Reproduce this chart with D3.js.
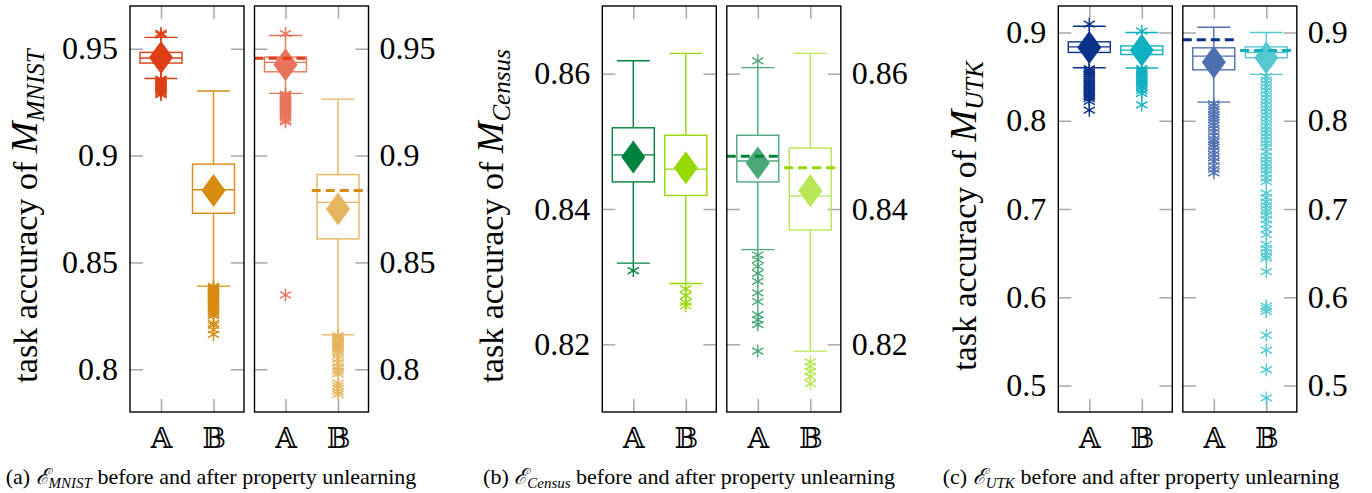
<!DOCTYPE html>
<html>
<head>
<meta charset="utf-8">
<script src="https://cdn.jsdelivr.net/npm/d3@7"></script>
<style>
  body { margin: 0; background: #fff; }
  text { font-family: "Liberation Serif", "DejaVu Serif", serif; }
</style>
</head>
<body>
<svg id="chart" width="1372" height="493"></svg>
<script>
// categories on the x axis
const categories = ["A", "B"];
const catLabels = ["\u{1D538}", "\u{1D539}"];

// box stats per category: [lower whisker, q1, median, q3, upper whisker]
const mnistBeforeBox = [[0.9361, 0.9433, 0.9457, 0.9483, 0.9553], [0.8389, 0.8730, 0.8840, 0.8960, 0.9302]];
const mnistAfterBox  = [[0.9291, 0.9392, 0.9436, 0.9461, 0.9562], [0.8161, 0.8610, 0.8781, 0.8911, 0.9264]];
const mnistBeforeMean = [0.9459, 0.8836];
const mnistAfterMean  = [0.9425, 0.8750];
const mnistRef = [0.9455, 0.8836];
const mnistBeforeOut = [
  [0.9572, 0.9565, 0.9358, 0.9352, 0.9347, 0.9342, 0.9338, 0.9333, 0.9328, 0.9322, 0.9317, 0.9311, 0.9305, 0.9298, 0.9291, 0.9285],
  [0.8388, 0.8382, 0.8376, 0.8370, 0.8365, 0.8360, 0.8354, 0.8348, 0.8342, 0.8336, 0.8331, 0.8325, 0.8318, 0.8312,
   0.8305, 0.8297, 0.8290, 0.8282, 0.8274, 0.8266, 0.8258, 0.8250, 0.8215, 0.8205, 0.8185, 0.8163]
];
const mnistAfterOut = [
  [0.9571, 0.9288, 0.9283, 0.9278, 0.9273, 0.9268, 0.9263, 0.9258, 0.9253, 0.9248, 0.9243, 0.9238, 0.9233, 0.9228,
   0.9222, 0.9216, 0.9210, 0.9203, 0.9196, 0.9188, 0.9178, 0.9166, 0.9158, 0.8348],
  [0.8158, 0.8152, 0.8146, 0.8140, 0.8134, 0.8128, 0.8122, 0.8116, 0.8110, 0.8102, 0.8094, 0.8085, 0.8075, 0.8062,
   0.8048, 0.8030, 0.8012, 0.8000, 0.7990, 0.7978, 0.7935, 0.7922, 0.7910, 0.7895, 0.7882]
];
const mnistTicks = [0.8, 0.85, 0.9, 0.95];
const mnistTickLabels = ["0.8", "0.85", "0.9", "0.95"];

const censusBeforeBox = [[0.8320, 0.8440, 0.8480, 0.8520, 0.8619], [0.8290, 0.8420, 0.8459, 0.8509, 0.8630]];
const censusAfterBox  = [[0.8340, 0.8440, 0.8471, 0.8509, 0.8609], [0.8190, 0.8369, 0.8419, 0.8490, 0.8630]];
const censusBeforeMean = [0.8477, 0.8461];
const censusAfterMean  = [0.8468, 0.8427];
const censusRef = [0.8478, 0.8461];
const censusBeforeOut = [[0.8309], [0.8282, 0.8272, 0.8262, 0.8257]];
const censusAfterOut = [
  [0.8619, 0.8332, 0.8325, 0.8315, 0.8305, 0.8293, 0.8276, 0.8263, 0.8244, 0.8236, 0.8229, 0.8190],
  [0.8174, 0.8167, 0.8160, 0.8152, 0.8142]
];
const censusTicks = [0.82, 0.84, 0.86];
const censusTickLabels = ["0.82", "0.84", "0.86"];

const utkBeforeBox = [[0.8600, 0.8774, 0.8837, 0.8894, 0.9070], [0.8597, 0.8750, 0.8800, 0.8848, 0.9000]];
const utkAfterBox  = [[0.8211, 0.8577, 0.8732, 0.8826, 0.9060], [0.8525, 0.8713, 0.8774, 0.8837, 0.9000]];
const utkBeforeMean = [0.8830, 0.8800];
const utkAfterMean  = [0.8664, 0.8715];
const utkRef = [0.8917, 0.8796];
const utkBeforeOut = [
  [0.9094, 0.859, 0.857, 0.855, 0.853, 0.851, 0.849, 0.847, 0.845, 0.843, 0.841, 0.839, 0.837, 0.835, 0.833,
   0.831, 0.829, 0.827, 0.825, 0.822, 0.812],
  [0.9015, 0.859, 0.857, 0.855, 0.853, 0.851, 0.849, 0.847, 0.845, 0.843, 0.841, 0.839, 0.837, 0.834, 0.831, 0.818]
];
const utkAfterOut = [
  [0.819, 0.816, 0.813, 0.810, 0.807, 0.804, 0.801, 0.798, 0.795, 0.791, 0.787, 0.783, 0.779, 0.776, 0.773,
   0.770, 0.766, 0.762, 0.758, 0.754, 0.749, 0.745, 0.741],
  [0.850, 0.846, 0.842, 0.838, 0.834, 0.830, 0.826, 0.822, 0.818, 0.814, 0.810, 0.806, 0.802, 0.798, 0.794,
   0.790, 0.786, 0.782, 0.778, 0.774, 0.770, 0.765, 0.760, 0.756, 0.752, 0.748, 0.744, 0.740, 0.735, 0.731,
   0.718, 0.713, 0.708, 0.704, 0.700, 0.697, 0.693, 0.688, 0.683, 0.677, 0.671, 0.660, 0.655, 0.651, 0.647,
   0.644, 0.629, 0.590, 0.587, 0.584, 0.557, 0.540, 0.518, 0.486]
];
const utkTicks = [0.5, 0.6, 0.7, 0.8, 0.9];
const utkTickLabels = ["0.5", "0.6", "0.7", "0.8", "0.9"];

// colours: [before A, before B], [after A, after B]
const mnistColors  = [["#de3f14", "#d68c0f"], ["#e8755b", "#e6b55f"]];
const censusColors = [["#00833d", "#96d900"], ["#4ca878", "#b8e656"]];
const utkColors    = [["#0a318a", "#0eb0c2"], ["#4e6fb0", "#55c8d2"]];

// layout
const frameTop = 6, frameBottom = 412, frameW = 114, frameGap = 10.5;
const svg = d3.select("#chart");

const groups = [
  { left: 130, domain: [0.78, 0.97], ticks: mnistTicks, tickLabels: mnistTickLabels, sub: "MNIST",
    box: [mnistBeforeBox, mnistAfterBox], mean: [mnistBeforeMean, mnistAfterMean],
    out: [mnistBeforeOut, mnistAfterOut], ref: mnistRef, colors: mnistColors,
    labelX: 37, capX: 211, tag: "(a) " },
  { left: 602.3, domain: [0.81, 0.87], ticks: censusTicks, tickLabels: censusTickLabels, sub: "Census",
    box: [censusBeforeBox, censusAfterBox], mean: [censusBeforeMean, censusAfterMean],
    out: [censusBeforeOut, censusAfterOut], ref: censusRef, colors: censusColors,
    labelX: 503, capX: 689, tag: "(b) " },
  { left: 1058.3, domain: [0.47, 0.93], ticks: utkTicks, tickLabels: utkTickLabels, sub: "UTK",
    box: [utkBeforeBox, utkAfterBox], mean: [utkBeforeMean, utkAfterMean],
    out: [utkBeforeOut, utkAfterOut], ref: utkRef, colors: utkColors,
    labelX: 976, capX: 1141, tag: "(c) " }
];

const star = r => {
  const c = r * Math.cos(Math.PI / 6), s = r * Math.sin(Math.PI / 6);
  return `M0,${-r}L0,${r}M${-c},${-s}L${c},${s}M${-c},${s}L${c},${-s}`;
};

function styleAxis(sel) {
  sel.select(".domain").remove();
  sel.attr("font-family", null).attr("font-size", null);
  sel.selectAll(".tick line").attr("stroke", "#a8a8a8").attr("stroke-width", 1.5);
  sel.selectAll(".tick text").attr("fill", "#000");
}

groups.forEach(cfg => {
  const y = d3.scaleLinear().domain(cfg.domain).range([frameBottom, frameTop]);

  [0, 1].forEach(fi => {
    const left = cfg.left + fi * (frameW + frameGap);
    const x = d3.scalePoint().domain(categories).range([left + 31, left + 83.5]);
    const g = svg.append("g");

    // ticks (inside the frame)
    g.append("g").attr("transform", `translate(${left},0)`)
      .call(d3.axisLeft(y).tickValues(cfg.ticks).tickSize(-13).tickPadding(12)
        .tickFormat((d, i) => fi === 0 ? cfg.tickLabels[i] : ""))
      .call(styleAxis).selectAll("text").attr("font-size", 32);
    g.append("g").attr("transform", `translate(${left + frameW},0)`)
      .call(d3.axisRight(y).tickValues(cfg.ticks).tickSize(-13).tickPadding(11)
        .tickFormat((d, i) => fi === 1 ? cfg.tickLabels[i] : ""))
      .call(styleAxis).selectAll("text").attr("font-size", 32);
    g.append("g").attr("transform", `translate(0,${frameBottom})`)
      .call(d3.axisBottom(x).tickSize(-13).tickPadding(16).tickFormat((d, i) => catLabels[i]))
      .call(styleAxis).selectAll("text")
      .attr("font-size", 28).attr("font-family", "'DejaVu Serif', 'DejaVu Sans', serif");
    g.append("g").attr("transform", `translate(0,${frameTop})`)
      .call(d3.axisTop(x).tickSize(-13).tickFormat(""))
      .call(styleAxis);

    categories.forEach((c, i) => {
      const b = cfg.box[fi][i], col = cfg.colors[fi][i], cx = x(c);
      const bg = g.append("g").attr("stroke", col).attr("stroke-width", 1.4).attr("fill", "none");
      // whiskers
      bg.append("line").attr("x1", cx).attr("x2", cx).attr("y1", y(b[0])).attr("y2", y(b[1]));
      bg.append("line").attr("x1", cx).attr("x2", cx).attr("y1", y(b[3])).attr("y2", y(b[4]));
      [b[0], b[4]].forEach(v => bg.append("line")
        .attr("x1", cx - 16.5).attr("x2", cx + 16.5).attr("y1", y(v)).attr("y2", y(v)));
      // box + median
      bg.append("rect").attr("x", cx - 21).attr("width", 42)
        .attr("y", y(b[3])).attr("height", y(b[1]) - y(b[3]));
      bg.append("line").attr("x1", cx - 21).attr("x2", cx + 21).attr("y1", y(b[2])).attr("y2", y(b[2]));
      // outliers
      bg.selectAll("path.out").data(cfg.out[fi][i]).join("path").attr("class", "out")
        .attr("d", star(6.5)).attr("stroke-width", 1.4)
        .attr("transform", d => `translate(${cx},${y(d)})`);
      // mean diamond
      const my = y(cfg.mean[fi][i]);
      g.append("path").attr("fill", col)
        .attr("d", `M${cx},${my - 16.5}L${cx + 12},${my}L${cx},${my + 16.5}L${cx - 12},${my}Z`);
    });

    // dashed before-means in the after frame
    if (fi === 1) {
      const mid = (x("A") + x("B")) / 2;
      const spans = [[left, mid - 5], [mid, left + frameW]];
      categories.forEach((c, i) => {
        g.append("line").attr("x1", spans[i][0]).attr("x2", spans[i][1])
          .attr("y1", y(cfg.ref[i])).attr("y2", y(cfg.ref[i]))
          .attr("stroke", cfg.colors[0][i]).attr("stroke-width", 3).attr("stroke-dasharray", "9,5");
      });
    }

    g.append("rect").attr("x", left).attr("y", frameTop).attr("width", frameW)
      .attr("height", frameBottom - frameTop).attr("fill", "none").attr("stroke", "#000").attr("stroke-width", 1.4);
  });

  // y axis title
  const t = svg.append("text").attr("text-anchor", "middle").attr("font-size", 34)
    .attr("transform", `translate(${cfg.labelX},216) rotate(-90)`);
  t.append("tspan").text("task accuracy of ");
  t.append("tspan").attr("font-style", "italic").attr("font-size", 38).text("M");
  t.append("tspan").attr("font-style", "italic").attr("font-size", 25).attr("dy", 7).text(cfg.sub);

  // caption
  const cap = svg.append("text").attr("x", cfg.capX).attr("y", 484).attr("text-anchor", "middle").attr("font-size", 22);
  cap.append("tspan").text(cfg.tag);
  cap.append("tspan").attr("font-style", "italic").text("\u2130");
  cap.append("tspan").attr("font-style", "italic").attr("font-size", 15).attr("dy", 4).text(cfg.sub);
  cap.append("tspan").attr("dy", -4).text(" before and after property unlearning");
});
</script>
</body>
</html>
